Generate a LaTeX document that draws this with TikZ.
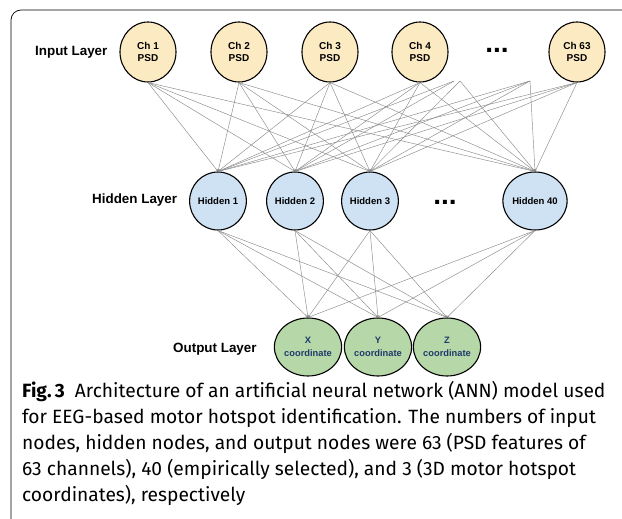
\documentclass[tikz,border=0pt]{standalone}
\usepackage{fontspec}
\setmainfont{Fira Sans}
\newfontfamily\arialf{Liberation Sans}
\usetikzlibrary{arrows.meta,shapes.geometric}
\definecolor{inpfill}{HTML}{FCEBC2}
\definecolor{hidfill}{HTML}{CFE2F3}
\definecolor{outfill}{HTML}{B6D7A8}
\definecolor{outtext}{HTML}{1F3A6B}
\definecolor{linegray}{HTML}{8A8A8A}
\begin{document}
\begin{tikzpicture}[x=1pt,y=-1pt,
  neuron/.style={ellipse,draw=black,line width=1.1pt,inner sep=0pt,align=center,
    font=\arialf\bfseries\fontsize{10}{11.5}\selectfont},
  inpnode/.style={neuron,fill=inpfill,minimum width=56pt,minimum height=60pt},
  hidnode/.style={neuron,fill=hidfill,minimum width=55pt,minimum height=58pt,
    font=\arialf\bfseries\fontsize{9.5}{10}\selectfont},
  outnode/.style={neuron,fill=outfill,minimum width=56pt,minimum height=58pt,text=outtext,
    font=\arialf\bfseries\fontsize{9.3}{13}\selectfont},
  layerlabel/.style={font=\arialf\bfseries\fontsize{13.4}{15}\selectfont,anchor=west,inner sep=0pt},
  dotslabel/.style={font=\arialf\bfseries\fontsize{28}{28}\selectfont,inner sep=0pt},
  conn/.style={draw=linegray,line width=0.45pt,-{Stealth[length=2.5pt,width=2pt]}},
  frame/.style={draw=black,line width=0.7pt,rounded corners=10pt}
]
\useasboundingbox (0,0) rectangle (622,519);
\draw[frame] (11,525) -- (11,10) -- (630,10);

% input layer
\node[layerlabel] (linput) at (35,52) {Input Layer};
\node[inpnode] (i1) at (148,52) {Ch 1\\PSD};
\node[inpnode] (i2) at (239,52) {Ch 2\\PSD};
\node[inpnode] (i3) at (330,52) {Ch 3\\PSD};
\node[inpnode] (i4) at (420,52) {Ch 4\\PSD};
\node[dotslabel] (idots) at (497,50) {...};
\node[inpnode] (i63) at (577,52) {Ch 63\\PSD};
\coordinate (p1) at (454,81);
\coordinate (p2) at (460,81);
\coordinate (p3) at (530,81);

% hidden layer
\node[layerlabel] (lhidden) at (92,200) {Hidden Layer};
\node[hidnode] (h1) at (218,201) {Hidden 1};
\node[hidnode] (h2) at (295,201) {Hidden 2};
\node[hidnode] (h3) at (370,201) {Hidden 3};
\node[dotslabel] (hdots) at (445,202) {...};
\node[hidnode] (h40) at (535,201) {Hidden 40};

% output layer
\node[layerlabel] (loutput) at (173,349) {Output Layer};
\node[outnode] (o1) at (308,347) {X\\coordinate};
\node[outnode] (o2) at (378,347) {Y\\coordinate};
\node[outnode] (o3) at (447,347) {Z\\coordinate};

% input -> hidden
\foreach \a in {i1,i2,i3,i4,i63}{
  \foreach \b in {h1,h2,h3,h40}{
    \draw[conn] (\a.south) -- (\b.north);
  }
}
\draw[conn] (p1) -- (h1.north);
\draw[conn] (p1) -- (h2.north);
\draw[conn] (p2) -- (h3.north);
\draw[conn] (p2) -- (h40.north);
\foreach \b in {h1,h2,h3,h40}{
  \draw[conn] (p3) -- (\b.north);
}
% hidden -> output
\foreach \a in {h1,h2,h3,h40}{
  \foreach \b in {o1,o2,o3}{
    \draw[conn] (\a.south) -- (\b.north);
  }
}

% caption
\node[anchor=base west,align=left,inner sep=0pt,
  font=\fontsize{19.2}{26}\selectfont] (cap) at (22,501)
  {\textbf{Fig.\,3}\ \ Architecture of an artificial neural network (ANN) model used\\
   for EEG-based motor hotspot identification. The numbers of input\\
   nodes, hidden nodes, and output nodes were 63 (PSD features of\\
   63 channels), 40 (empirically selected), and 3 (3D motor hotspot\\
   coordinates), respectively};
\end{tikzpicture}
\end{document}
